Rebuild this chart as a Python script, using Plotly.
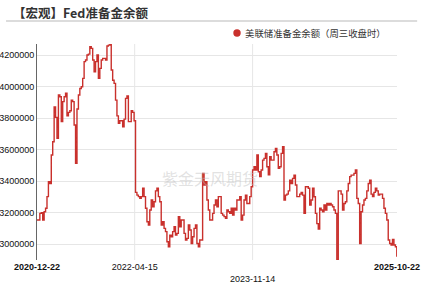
import pandas as pd
import plotly.graph_objects as go

# ---------------- data ----------------
start_date = "2020-12-22"
end_date = "2025-10-22"

reserves = [
    3153000, 3153000, 3195000, 3200000, 3153000, 3205000, 3227000, 3301000, 3396000, 3385000,
    3565000, 3650000, 3870000, 3804000, 3671000, 3946000, 3935000, 3777000, 3904000, 3935000,
    3957000, 3814000, 3836000, 3846000, 3914000, 3904000, 3756000, 3512000, 3857000, 3946000,
    3988000, 3999000, 4052000, 4158000, 4168000, 4200000, 4206000, 4253000, 4242000, 4168000,
    4094000, 4158000, 4200000, 4052000, 4115000, 4168000, 4179000, 4179000, 4168000, 4257000,
    4263000, 4270000,
    4105000, 4040000, 4020000, 3914000, 3814000, 3766000, 3783000, 3783000,
    3745000, 3793000, 3925000, 3940000, 3777000, 3777000, 3846000, 3836000, 3783000, 3328000,
    3311000, 3301000, 3290000, 3301000, 3354000, 3301000, 3227000, 3142000, 3121000, 3216000,
    3280000, 3237000, 3269000, 3338000, 3354000, 3301000, 3269000, 3121000, 3142000, 3100000,
    3079000, 3015000, 2983000, 3057000, 3047000, 3079000, 3110000, 3057000, 3068000, 3174000,
    3110000, 3153000,
    3153000, 3068000, 3026000, 3036000, 3121000, 3089000, 3004000, 3047000,
    3100000, 3121000, 3004000, 2983000, 3026000, 3026000, 3449000, 3375000, 3396000, 3280000,
    3216000, 3153000, 3153000, 3195000, 3248000, 3280000, 3237000, 3301000, 3301000, 3195000,
    3184000, 3174000, 3163000, 3216000, 3205000, 3195000, 3227000, 3184000, 3227000, 3216000,
    3280000, 3280000, 3301000, 3153000, 3184000, 3280000, 3311000, 3258000, 3258000, 3301000,
    3364000, 3470000, 3491000,
    3470000, 3565000, 3459000, 3428000, 3470000, 3533000, 3544000,
    3575000, 3491000, 3440000, 3555000, 3533000, 3533000, 3586000, 3607000, 3565000, 3481000,
    3491000, 3576000, 3618000, 3280000, 3311000, 3317000, 3338000, 3406000, 3385000, 3417000,
    3438000, 3375000, 3301000, 3301000, 3317000, 3328000, 3311000, 3195000, 3364000, 3364000,
    3354000, 3248000, 3280000, 3354000, 3300000, 3195000, 3130000, 3095000, 3227000, 3216000,
    3205000, 3248000, 3216000, 3258000, 3248000,
    3258000, 3248000, 3237000, 3216000, 3195000,
    2899000, 3338000, 3338000, 3317000, 3216000, 3258000, 3269000, 3338000, 3385000, 3428000,
    3438000, 3438000, 3449000, 3470000, 3290000, 3258000, 3004000, 3205000, 3248000, 3280000,
    3290000, 3338000, 3385000, 3406000, 3317000, 3301000, 3328000, 3354000, 3338000, 3311000,
    3317000, 3317000, 3290000, 3227000, 3195000, 3153000, 3026000, 3004000, 2994000, 3030000,
    2994000, 2983000, 2920000,
]

y_ticks = [3000000, 3200000, 3400000, 3600000, 3800000, 4000000, 4200000]
x_ticks = ["2020-12-22", "2022-04-15", "2023-11-14", "2025-10-22"]
x_ticktext = ["<b>2020-12-22</b>", "2022-04-15", "<br>2023-11-14", "<b>2025-10-22</b>"]
x_gridlines = ["2022-04-15", "2023-11-14"]

title_text = "【宏观】Fed准备金余额"
series_name = "美联储准备金余额（周三收盘时）"
watermark_text = "紫金天风期货"

dates = pd.date_range(start=start_date, periods=len(reserves), freq="7D")

# ---------------- style ----------------
RED = "#c9302c"
CJK = "Noto Sans CJK SC"
NUM = "Liberation Sans, Noto Sans CJK SC"

fig = go.Figure()
fig.add_trace(go.Scatter(
    x=dates, y=reserves, mode="lines", name=series_name,
    line=dict(color=RED, width=1.4, shape="hv"),
    showlegend=False, hoverinfo="x+y",
))

shapes = []
for d in x_gridlines:
    shapes.append(dict(type="line", xref="x", yref="paper", x0=d, x1=d, y0=0, y1=1,
                       line=dict(color="#e6e6e6", width=1), layer="below"))
# header separator
shapes.append(dict(type="line", xref="paper", yref="paper", x0=-0.086, x1=1.056,
                   y0=1.1065, y1=1.1065, line=dict(color="#dcdcdc", width=2)))
# legend dot
shapes.append(dict(type="circle", xref="paper", yref="paper",
                   x0=0.5556 - 0.0103, x1=0.5556 + 0.0103,
                   y0=1.0509 - 0.0171, y1=1.0509 + 0.0171,
                   fillcolor=RED, line=dict(color=RED, width=0)))

annotations = [
    dict(text="<b>" + title_text + "</b>", xref="paper", yref="paper", x=-0.072, y=1.148,
         xanchor="left", yanchor="middle", showarrow=False,
         font=dict(family=CJK, size=12.5, color="#333333")),
    dict(text=series_name, xref="paper", yref="paper", x=0.573, y=1.0509,
         xanchor="left", yanchor="middle", showarrow=False,
         font=dict(family=CJK, size=9.4, color="#333333")),
    dict(text=watermark_text, xref="paper", yref="paper", x=0.48, y=0.38,
         xanchor="center", yanchor="middle", showarrow=False,
         font=dict(family=CJK, size=16, color="rgba(190,190,190,0.45)")),
]

fig.update_layout(
    template="none",
    width=422, height=284,
    margin=dict(l=37, r=25, t=44, b=24, pad=0),
    paper_bgcolor="white", plot_bgcolor="white",
    font=dict(family=NUM, size=9, color="#222222"),
    shapes=shapes, annotations=annotations,
    showlegend=False,
    xaxis=dict(
        type="date", range=[start_date, end_date],
        tickmode="array", tickvals=x_ticks, ticktext=x_ticktext,
        showgrid=False, showline=False, zeroline=False, ticks="",
        tickfont=dict(family=NUM, size=9, color="#111111"),
        automargin=False,
    ),
    yaxis=dict(
        range=[min(reserves), max(reserves)],
        tickmode="array", tickvals=y_ticks, tickformat="d",
        showgrid=True, gridcolor="#e6e6e6", gridwidth=1,
        showline=True, linecolor="#666666", linewidth=1,
        zeroline=False, ticks="",
        tickfont=dict(family=NUM, size=9, color="#111111"),
        automargin=False,
    ),
)

fig.write_html("out.html")
